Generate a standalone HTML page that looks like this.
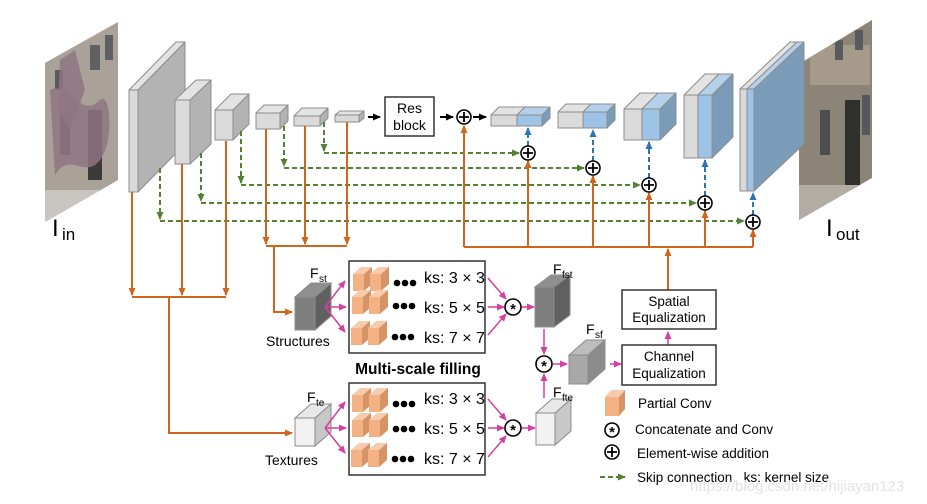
<!DOCTYPE html>
<html><head><meta charset="utf-8"><style>
html,body{margin:0;padding:0;background:#fff;}
svg{display:block;}
text{font-family:"Liberation Sans",sans-serif;}
</style></head><body>
<svg width="927" height="504" viewBox="0 0 927 504" xmlns="http://www.w3.org/2000/svg">
<defs>
<marker id="ao" markerWidth="8" markerHeight="8" refX="7" refY="4" orient="auto" markerUnits="userSpaceOnUse"><path d="M0,0.5 L8,4 L0,7.5 z" fill="#d0661e"/></marker>
<marker id="ag" markerWidth="8" markerHeight="8" refX="7" refY="4" orient="auto" markerUnits="userSpaceOnUse"><path d="M0,0.5 L8,4 L0,7.5 z" fill="#548235"/></marker>
<marker id="am" markerWidth="8" markerHeight="8" refX="7" refY="4" orient="auto" markerUnits="userSpaceOnUse"><path d="M0,0.5 L8,4 L0,7.5 z" fill="#d63fa0"/></marker>
<marker id="ab" markerWidth="8" markerHeight="8" refX="7" refY="4" orient="auto" markerUnits="userSpaceOnUse"><path d="M0,0.5 L8,4 L0,7.5 z" fill="#2e75b6"/></marker>
<marker id="ak" markerWidth="8" markerHeight="8" refX="7" refY="4" orient="auto" markerUnits="userSpaceOnUse"><path d="M0,0.5 L8,4 L0,7.5 z" fill="#000"/></marker>
<clipPath id="cin"><polygon points="45,63 118,22 118,180 45,222"/></clipPath>
<clipPath id="cout"><polygon points="799,64 872,20 872,178 799,220"/></clipPath>
<g id="pc">
<polygon points="0,0 11,0 11,17 0,17" fill="#f4b183"/>
<polygon points="0,0 11,0 19,-7 8,-7" fill="#f8cbad"/>
<polygon points="11,0 19,-7 19,10 11,17" fill="#d69366"/>
</g>
<g id="pcrow">
<use href="#pc" x="0" y="0"/><use href="#pc" x="17" y="0"/>
<circle cx="44" cy="9" r="3.3" fill="#000"/><circle cx="52" cy="9" r="3.3" fill="#000"/><circle cx="60" cy="9" r="3.3" fill="#000"/>
</g>
</defs>

<!-- input image -->
<g clip-path="url(#cin)">
<rect x="45" y="20" width="75" height="205" fill="#9c958f"/>
<rect x="45" y="20" width="75" height="205" fill="#b8aea3" opacity="0.5"/>
<rect x="55" y="70" width="8" height="20" fill="#5a5a5e"/><rect x="90" y="45" width="10" height="25" fill="#5f5f64"/><rect x="105" y="35" width="8" height="25" fill="#5f5f64"/>
<rect x="88" y="110" width="14" height="70" fill="#3a3a38"/><rect x="60" y="115" width="10" height="40" fill="#4d4d4f"/>
<path d="M50,90 C70,80 80,120 100,100 C110,90 115,140 100,160 C85,180 70,150 55,175 Z" fill="#917683" opacity="0.85"/>
<path d="M60,60 L75,50 L85,90 L70,130 L58,110 Z" fill="#917683" opacity="0.85"/>
<rect x="45" y="190" width="75" height="35" fill="#c9c6c2"/>
</g>
<text x="52" y="236" font-size="24" fill="#000">I</text><text x="62" y="240" font-size="17">in</text>

<!-- output image -->
<g clip-path="url(#cout)">
<rect x="799" y="18" width="75" height="205" fill="#8d8478"/>
<rect x="810" y="45" width="60" height="40" fill="#a69a8a"/>
<rect x="845" y="100" width="15" height="90" fill="#2f2f2c"/>
<rect x="820" y="110" width="10" height="45" fill="#4d4d4f"/><rect x="862" y="95" width="8" height="40" fill="#55575a"/>
<rect x="835" y="40" width="8" height="20" fill="#5a5a5e"/><rect x="855" y="30" width="8" height="20" fill="#5a5a5e"/>
<rect x="799" y="185" width="75" height="40" fill="#b3aca2"/>
</g>
<text x="826" y="236" font-size="24">I</text><text x="836" y="240" font-size="17">out</text>

<!-- encoder blocks -->
<g stroke="#8c8c8c" stroke-width="1" stroke-linejoin="round">
<polygon points="138,90 185,42 185,144 138,192" fill="#b3b3b3"/><polygon points="129,90 138,90 185,42 176,42" fill="#e3e3e3"/><rect x="129" y="90" width="9" height="102" fill="#dadada"/>
<polygon points="190,100 211,80 211,144 190,164" fill="#b3b3b3"/><polygon points="175,100 190,100 211,80 196,80" fill="#e3e3e3"/><rect x="175" y="100" width="15" height="64" fill="#dadada"/>
<polygon points="233,110 249,94 249,124 233,140" fill="#b3b3b3"/><polygon points="215,110 233,110 249,94 231,94" fill="#e3e3e3"/><rect x="215" y="110" width="18" height="30" fill="#dadada"/>
<polygon points="280,113 288,105 288,121 280,129" fill="#b3b3b3"/><polygon points="256,113 280,113 288,105 264,105" fill="#e3e3e3"/><rect x="256" y="113" width="24" height="16" fill="#dadada"/>
<polygon points="320,116 328,108 328,118 320,126" fill="#b3b3b3"/><polygon points="294,116 320,116 328,108 302,108" fill="#e3e3e3"/><rect x="294" y="116" width="26" height="10" fill="#dadada"/>
<polygon points="359,115 364,111 364,118 359,122" fill="#b3b3b3"/><polygon points="335,115 359,115 364,111 340,111" fill="#e3e3e3"/><rect x="335" y="115" width="24" height="7" fill="#dadada"/>
</g>

<!-- decoder blocks -->
<g stroke="#8c8c8c" stroke-width="1" stroke-linejoin="round">
<polygon points="542,115 550,107 550,118 542,126" fill="#7a9cb8"/><polygon points="491,115 517,115 525,107 499,107" fill="#e3e3e3"/><polygon points="517,115 542,115 550,107 525,107" fill="#b4d0ea"/><rect x="491" y="115" width="26" height="11" fill="#dadada"/><rect x="517" y="115" width="25" height="11" fill="#9dc3e6"/>
<polygon points="607,112 615,104 615,120 607,128" fill="#7a9cb8"/><polygon points="558,112 583,112 591,104 566,104" fill="#e3e3e3"/><polygon points="583,112 607,112 615,104 591,104" fill="#b4d0ea"/><rect x="558" y="112" width="25" height="16" fill="#dadada"/><rect x="583" y="112" width="24" height="16" fill="#9dc3e6"/>
<polygon points="660,109 676,93 676,124 660,140" fill="#7a9cb8"/><polygon points="624,109 642,109 658,93 640,93" fill="#e3e3e3"/><polygon points="642,109 660,109 676,93 658,93" fill="#b4d0ea"/><rect x="624" y="109" width="18" height="31" fill="#dadada"/><rect x="642" y="109" width="18" height="31" fill="#9dc3e6"/>
<polygon points="712,95 733,74 733,137 712,158" fill="#7a9cb8"/><polygon points="684,95 698,95 719,74 705,74" fill="#e3e3e3"/><polygon points="698,95 712,95 733,74 719,74" fill="#b4d0ea"/><rect x="684" y="95" width="14" height="63" fill="#dadada"/><rect x="698" y="95" width="14" height="63" fill="#9dc3e6"/>
<polygon points="754,89 804,42 804,144 754,191" fill="#7a9cb8"/><polygon points="740,89 747,89 797,42 790,42" fill="#e3e3e3"/><polygon points="747,89 754,89 804,42 797,42" fill="#b4d0ea"/><rect x="740" y="89" width="7" height="102" fill="#dadada"/><rect x="747" y="89" width="7" height="102" fill="#9dc3e6"/>
</g>

<!-- res block -->
<path d="M368 117 H380" stroke="#000" stroke-width="2" marker-end="url(#ak)"/>
<rect x="385" y="97" width="49" height="39" fill="#fff" stroke="#333" stroke-width="1.5"/>
<text x="409.5" y="113" font-size="14" text-anchor="middle">Res</text>
<text x="409.5" y="130" font-size="14" text-anchor="middle">block</text>
<path d="M440 117 H453" stroke="#000" stroke-width="2" marker-end="url(#ak)"/>
<path d="M473 117 H486" stroke="#000" stroke-width="2" marker-end="url(#ak)"/>

<!-- green skip -->
<g stroke="#548235" stroke-width="2" stroke-dasharray="5,3" fill="none">
<path d="M324 122 V151" marker-end="url(#ag)"/><path d="M324 153 H519" marker-end="url(#ag)"/>
<path d="M284 126 V166" marker-end="url(#ag)"/><path d="M284 168 H584" marker-end="url(#ag)"/>
<path d="M241 131 V183" marker-end="url(#ag)"/><path d="M241 185 H640" marker-end="url(#ag)"/>
<path d="M201 153 V201" marker-end="url(#ag)"/><path d="M201 203 H696" marker-end="url(#ag)"/>
<path d="M160 168 V219" marker-end="url(#ag)"/><path d="M160 221 H744" marker-end="url(#ag)"/>
</g>

<!-- blue dashed -->
<g stroke="#2e75b6" stroke-width="2" stroke-dasharray="5,3" fill="none">
<path d="M528 146 V128" marker-end="url(#ab)"/>
<path d="M593 161 V130" marker-end="url(#ab)"/>
<path d="M649 178 V142" marker-end="url(#ab)"/>
<path d="M705 196 V160" marker-end="url(#ab)"/>
<path d="M753 215 V193" marker-end="url(#ab)"/>
</g>

<!-- orange -->
<g stroke="#d0661e" stroke-width="2" fill="none">
<path d="M132 192 V295" marker-end="url(#ao)"/><path d="M182 164 V295" marker-end="url(#ao)"/><path d="M226 141 V295" marker-end="url(#ao)"/>
<path d="M132 297 H226"/><path d="M169 297 V433 H292" marker-end="url(#ao)"/>
<path d="M266 129 V244" marker-end="url(#ao)"/><path d="M305 126 V244" marker-end="url(#ao)"/><path d="M347 122 V244" marker-end="url(#ao)"/>
<path d="M266 246 H347"/><path d="M274 246 V312 H292" marker-end="url(#ao)"/>
<path d="M464 247 H753"/>
<path d="M464 247 V126" marker-end="url(#ao)"/><path d="M528 247 V161" marker-end="url(#ao)"/><path d="M593 247 V176" marker-end="url(#ao)"/><path d="M649 247 V193" marker-end="url(#ao)"/><path d="M705 247 V211" marker-end="url(#ao)"/><path d="M753 247 V230" marker-end="url(#ao)"/>
<path d="M668 290 V249" marker-end="url(#ao)"/>
</g>

<!-- plus circles -->
<g stroke="#000" stroke-width="1.6" fill="#fff">
<circle cx="464" cy="117" r="7"/><circle cx="528" cy="153" r="7"/><circle cx="593" cy="168" r="7"/><circle cx="649" cy="185" r="7"/><circle cx="705" cy="203" r="7"/><circle cx="753" cy="222" r="7"/><circle cx="612" cy="452" r="7"/>
</g>
<g stroke="#000" stroke-width="1.8">
<path d="M459 117 H469 M464 112 V122"/><path d="M523 153 H533 M528 148 V158"/><path d="M588 168 H598 M593 163 V173"/><path d="M644 185 H654 M649 180 V190"/><path d="M700 203 H710 M705 198 V208"/><path d="M748 222 H758 M753 217 V227"/><path d="M607 452 H617 M612 447 V457"/>
</g>

<!-- bottom cubes -->
<g stroke="#8c8c8c" stroke-width="1">
<polygon points="315,297 331,283 331,316 315,330" fill="#606060"/><polygon points="295,297 315,297 331,283 311,283" fill="#8f8f8f"/><rect x="295" y="297" width="20" height="33" fill="#7f7f7f"/>
<polygon points="554,287 570,275 570,315 554,327" fill="#606060"/><polygon points="535,287 554,287 570,275 551,275" fill="#8f8f8f"/><rect x="535" y="287" width="19" height="40" fill="#7f7f7f"/>
<polygon points="588,355 605,340 605,369 588,384" fill="#8c8c8c"/><polygon points="569,355 588,355 605,340 586,340" fill="#bdbdbd"/><rect x="569" y="355" width="19" height="29" fill="#a8a8a8"/>
<polygon points="315,418 331,404 331,432 315,446" fill="#c8c8c8"/><polygon points="295,418 315,418 331,404 311,404" fill="#e8e8e8"/><rect x="295" y="418" width="20" height="28" fill="#f2f2f2"/>
<polygon points="555,413 571,399 571,431 555,445" fill="#c8c8c8"/><polygon points="536,413 555,413 571,399 552,399" fill="#e8e8e8"/><rect x="536" y="413" width="19" height="32" fill="#f2f2f2"/>
</g>
<text x="310" y="278" font-size="14">F</text><text x="319" y="282" font-size="10">st</text>
<text x="266" y="346" font-size="14">Structures</text>
<text x="307" y="402" font-size="14">F</text><text x="316" y="406" font-size="10">te</text>
<text x="265" y="465" font-size="14">Textures</text>
<text x="553" y="274" font-size="14">F</text><text x="562" y="278" font-size="10">fst</text>
<text x="586" y="334" font-size="14">F</text><text x="595" y="338" font-size="10">sf</text>
<text x="553" y="397" font-size="14">F</text><text x="562" y="401" font-size="10">fte</text>

<!-- multi-scale boxes -->
<rect x="349" y="261" width="136" height="92" fill="#fff" stroke="#333" stroke-width="1.5"/>
<rect x="349" y="383" width="136" height="92" fill="#fff" stroke="#333" stroke-width="1.5"/>
<use href="#pcrow" x="353" y="274"/><use href="#pcrow" x="352" y="297"/><use href="#pcrow" x="351" y="328"/>
<use href="#pcrow" x="352" y="395"/><use href="#pcrow" x="352" y="420"/><use href="#pcrow" x="351" y="450"/>
<g font-size="16">
<text x="424" y="283">ks: 3 × 3</text><text x="424" y="313">ks: 5 × 5</text><text x="424" y="343">ks: 7 × 7</text>
<text x="424" y="404">ks: 3 × 3</text><text x="424" y="434">ks: 5 × 5</text><text x="424" y="464">ks: 7 × 7</text>
</g>
<text x="418" y="374" font-size="15.5" font-weight="bold" text-anchor="middle">Multi-scale filling</text>

<!-- magenta arrows -->
<g stroke="#d63fa0" stroke-width="1.5" fill="none">
<path d="M325 307 L345 281" marker-end="url(#am)"/><path d="M325 307 L346 307" marker-end="url(#am)"/><path d="M325 307 L345 332" marker-end="url(#am)"/>
<path d="M325 428 L345 402" marker-end="url(#am)"/><path d="M325 428 L346 428" marker-end="url(#am)"/><path d="M325 428 L345 453" marker-end="url(#am)"/>
<path d="M488 278 L506 299" marker-end="url(#am)"/><path d="M488 307 L504 307" marker-end="url(#am)"/><path d="M488 335 L506 314" marker-end="url(#am)"/>
<path d="M488 399 L506 420" marker-end="url(#am)"/><path d="M488 428 L504 428" marker-end="url(#am)"/><path d="M488 457 L506 436" marker-end="url(#am)"/>
<path d="M522 307 L534 307" marker-end="url(#am)"/><path d="M522 428 L535 428" marker-end="url(#am)"/>
<path d="M544 329 V354" marker-end="url(#am)"/><path d="M544 398 V374" marker-end="url(#am)"/>
<path d="M553 364 H567" marker-end="url(#am)"/><path d="M610 364 H621" marker-end="url(#am)"/>
<path d="M668 345 V332" marker-end="url(#am)"/>
</g>

<!-- concat circles -->
<g stroke="#000" stroke-width="1.6" fill="#fff">
<circle cx="513" cy="307" r="8"/><circle cx="513" cy="428" r="8"/><circle cx="544" cy="364" r="8"/><circle cx="612" cy="430" r="7"/>
</g>
<g font-size="15" text-anchor="middle" font-weight="bold">
<text x="513" y="314">*</text><text x="513" y="435">*</text><text x="544" y="371">*</text><text x="612" y="437">*</text>
</g>

<!-- equalization boxes -->
<rect x="622" y="290" width="94" height="39" fill="#fff" stroke="#333" stroke-width="1.5"/>
<text x="669" y="306" font-size="13.5" text-anchor="middle">Spatial</text>
<text x="669" y="322" font-size="13.5" text-anchor="middle">Equalization</text>
<rect x="622" y="345" width="94" height="40" fill="#fff" stroke="#333" stroke-width="1.5"/>
<text x="669" y="361" font-size="13.5" text-anchor="middle">Channel</text>
<text x="669" y="378" font-size="13.5" text-anchor="middle">Equalization</text>

<!-- legend -->
<polygon points="605,397 619,397 619,416 605,416" fill="#f4b183"/>
<polygon points="605,397 619,397 625,390 611,390" fill="#f8cbad"/>
<polygon points="619,397 625,390 625,409 619,416" fill="#d69366"/>
<g font-size="13.5">
<text x="638" y="408">Partial Conv</text>
<text x="635" y="434">Concatenate and Conv</text>
<text x="637" y="458">Element-wise addition</text>
<text x="637" y="482">Skip connection&#160;&#160; ks: kernel size</text>
</g>
<path d="M600 477 H625" stroke="#548235" stroke-width="2" stroke-dasharray="5,3" marker-end="url(#ag)"/>
<text x="690" y="491" font-size="15" fill="#e3e3e3">https://blog.csdn.net/hijiayan123</text>
</svg>
</body></html>
